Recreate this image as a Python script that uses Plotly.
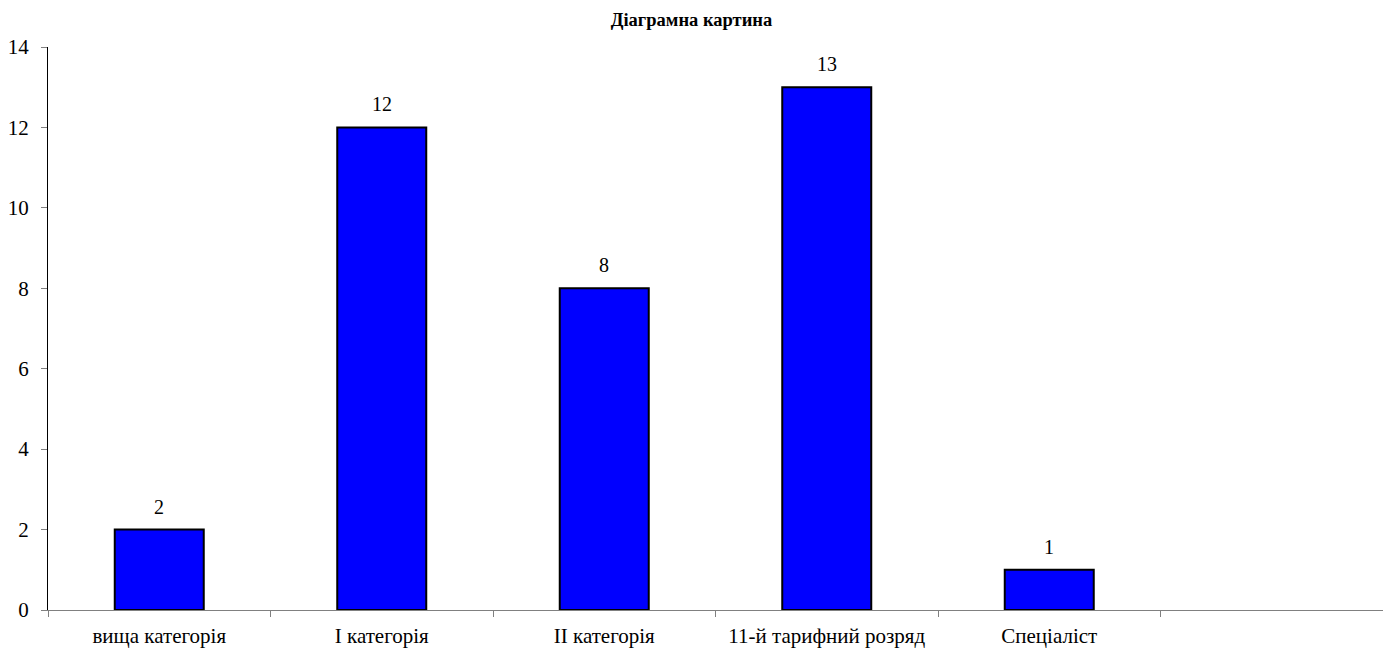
import plotly.graph_objects as go

categories = ["вища категорія", "І категорія", "ІІ категорія", "11-й тарифний розряд", "Спеціаліст"]
values = [2, 12, 8, 13, 1]

x_pos = list(range(len(categories)))
n_slots = len(categories) + 1  # axis leaves one empty slot on the right

font_family = "Liberation Serif, Times New Roman, serif"

fig = go.Figure()
fig.add_trace(go.Bar(
    x=x_pos,
    y=values,
    width=0.4,
    marker=dict(color="#0000FF", line=dict(color="#000000", width=2)),
    hoverinfo="skip",
))

# value labels above each bar
for xi, v in zip(x_pos, values):
    fig.add_annotation(
        x=xi, y=v, text=str(v), showarrow=False,
        yanchor="bottom", yshift=10,
        font=dict(family=font_family, size=20, color="#000000"),
    )

fig.update_layout(
    width=1383, height=654,
    margin=dict(l=48, r=0, t=47, b=44),
    paper_bgcolor="white", plot_bgcolor="white",
    showlegend=False,
    title=dict(
        text="<b>Діаграмна картина</b>",
        x=0.5, xanchor="center", y=0.97, yanchor="middle",
        font=dict(family=font_family, size=18.5, color="#000000"),
    ),
    font=dict(family=font_family, size=20, color="#000000"),
)

fig.update_xaxes(
    range=[-0.5, n_slots - 0.5],
    tickmode="array", tickvals=x_pos, ticktext=categories,
    ticks="", showgrid=False, zeroline=False,
    showline=True, linecolor="#808080", linewidth=1,
    tickfont=dict(family=font_family, size=21, color="#000000"),
    ticklabelstandoff=7,
    minor=dict(
        tickmode="array",
        tickvals=[i - 0.5 for i in range(n_slots)],
        ticks="outside", ticklen=6, tickcolor="#808080", tickwidth=1,
        showgrid=False,
    ),
    fixedrange=True,
)

fig.update_yaxes(
    range=[0, 14], dtick=2,
    ticks="outside", ticklen=6, tickcolor="#808080", tickwidth=1,
    showgrid=False, zeroline=False,
    showline=True, linecolor="#000000", linewidth=1,
    tickfont=dict(family=font_family, size=21, color="#000000"),
    ticklabelstandoff=8,
    fixedrange=True,
)

fig.write_html("out.html")
